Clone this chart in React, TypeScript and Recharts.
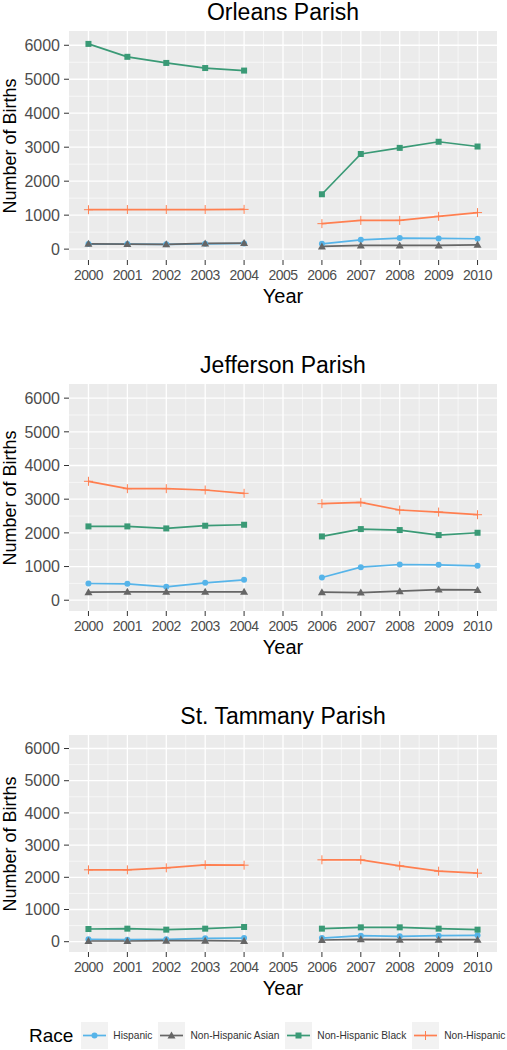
import React from "react"
import { LineChart, Line, XAxis, YAxis, CartesianGrid } from "recharts"

const YEARS = [2000, 2001, 2002, 2003, 2004, 2005, 2006, 2007, 2008, 2009, 2010]
const Y_TICKS = [0, 1000, 2000, 3000, 4000, 5000, 6000]
const Y_MINOR = [500, 1500, 2500, 3500, 4500, 5500]
const X_MINOR = [2000.5, 2001.5, 2002.5, 2003.5, 2004.5, 2005.5, 2006.5, 2007.5, 2008.5, 2009.5]

const RACES = ["Hispanic", "Non-Hispanic Asian", "Non-Hispanic Black", "Non-Hispanic"]

// births per year, null = 2005 (no data after Katrina)
const orleansHispanic = [150, 150, 140, 155, 165, null, 157, 275, 325, 315, 305]
const orleansAsian = [157, 148, 140, 167, 177, null, 79, 108, 108, 108, 128]
const orleansBlack = [6040, 5660, 5480, 5330, 5255, null, 1615, 2800, 2980, 3160, 3020]
const orleansWhite = [1160, 1165, 1165, 1165, 1170, null, 750, 845, 845, 965, 1075]

const jeffersonHispanic = [496, 486, 397, 516, 605, null, 674, 982, 1061, 1051, 1022]
const jeffersonAsian = [238, 248, 248, 248, 248, null, 238, 228, 268, 317, 307]
const jeffersonBlack = [2192, 2192, 2132, 2212, 2241, null, 1894, 2112, 2083, 1934, 2003]
const jeffersonWhite = [3531, 3312, 3312, 3273, 3174, null, 2866, 2906, 2678, 2618, 2539]

const tammanyHispanic = [73, 62, 73, 104, 114, null, 114, 187, 166, 187, 197]
const tammanyAsian = [21, 21, 31, 31, 21, null, 52, 73, 62, 62, 62]
const tammanyBlack = [394, 405, 374, 405, 457, null, 405, 446, 446, 405, 374]
const tammanyWhite = [2232, 2232, 2294, 2388, 2377, null, 2543, 2543, 2356, 2190, 2128]

const COLORS = ["#56B4E9", "#666666", "#3A9A76", "#FF7F50"]
const SHAPES = ["circle", "triangle", "square", "plus"]
const FONT = "'Liberation Sans', Arial, Helvetica, sans-serif"

function buildRows(series: (number | null)[][]) {
  return YEARS.map((year, i) => {
    const row: Record<string, number | null> = { year }
    RACES.forEach((r, k) => {
      row[r] = series[k][i]
    })
    return row
  })
}

function Marker({ shape, color, cx, cy }: { shape: string; color: string; cx: number; cy: number }) {
  if (shape === "circle") return <circle cx={cx} cy={cy} r={3} fill={color} />
  if (shape === "triangle")
    return <polygon points={`${cx},${cy - 4} ${cx - 4},${cy + 3} ${cx + 4},${cy + 3}`} fill={color} />
  if (shape === "square") return <rect x={cx - 3} y={cy - 3} width={6} height={6} fill={color} />
  return (
    <g stroke={color} strokeWidth={1}>
      <line x1={cx - 4.5} y1={cy} x2={cx + 4.5} y2={cy} />
      <line x1={cx} y1={cy - 4.5} x2={cx} y2={cy + 4.5} />
    </g>
  )
}

const panels = [
  { title: "Orleans Parish", series: [orleansHispanic, orleansAsian, orleansBlack, orleansWhite], top: 31, h: 229 },
  { title: "Jefferson Parish", series: [jeffersonHispanic, jeffersonAsian, jeffersonBlack, jeffersonWhite], top: 384, h: 227 },
  { title: "St. Tammany Parish", series: [tammanyHispanic, tammanyAsian, tammanyBlack, tammanyWhite], top: 735, h: 217 },
]

const PLOT_LEFT = 69
const PLOT_RIGHT = 497

function Panel({ title, series, top, h }: { title: string; series: (number | null)[][]; top: number; h: number }) {
  const rows = buildRows(series)
  const bottom = top + h
  return (
    <>
      <div
        style={{
          position: "absolute", left: PLOT_LEFT, width: PLOT_RIGHT - PLOT_LEFT, top: top - 33,
          height: 28, lineHeight: "28px", textAlign: "center", fontSize: 23, color: "#000",
        }}
      >
        {title}
      </div>
      <div style={{ position: "absolute", left: 10, top: top + h / 2, width: 0, height: 0 }}>
        <div
          style={{
            position: "absolute", whiteSpace: "nowrap", fontSize: 18, lineHeight: "18px", color: "#000",
            transform: "translate(-50%, -50%) rotate(-90deg)",
          }}
        >
          Number of Births
        </div>
      </div>
      <div
        style={{
          position: "absolute", left: PLOT_LEFT, width: PLOT_RIGHT - PLOT_LEFT, top: bottom + 24,
          height: 24, lineHeight: "24px", textAlign: "center", fontSize: 20, color: "#000",
        }}
      >
        Year
      </div>
      <div style={{ position: "absolute", left: 0, top: top - 10 }}>
        <LineChart width={507} height={h + 40} data={rows} margin={{ top: 10, right: 507 - PLOT_RIGHT, bottom: 0, left: 0 }}>
          <CartesianGrid fill="#EBEBEB" stroke="#FFFFFF" strokeWidth={0.6} horizontalValues={Y_MINOR} verticalValues={X_MINOR} />
          <CartesianGrid fill="none" stroke="#FFFFFF" strokeWidth={1.3} horizontalValues={Y_TICKS} verticalValues={YEARS} />
          <XAxis
            dataKey="year"
            type="number"
            domain={[1999.5, 2010.5]}
            ticks={YEARS}
            interval={0}
            height={30}
            axisLine={false}
            tickSize={5}
            tickMargin={5}
            tickLine={{ stroke: "#333333" }}
            tick={{ fontSize: 14, fill: "#4D4D4D", letterSpacing: -0.5, fontFamily: FONT }}
          />
          <YAxis
            type="number"
            domain={[-320, 6420]}
            allowDataOverflow
            ticks={Y_TICKS}
            interval={0}
            width={PLOT_LEFT}
            axisLine={false}
            tickSize={5}
            tickMargin={4}
            tickLine={{ stroke: "#333333" }}
            tick={{ fontSize: 16, fill: "#4D4D4D", fontFamily: FONT }}
          />
          {RACES.map((race, k) => (
            <Line
              key={race}
              dataKey={race}
              type="linear"
              stroke={COLORS[k]}
              strokeWidth={1.7}
              isAnimationActive={false}
              connectNulls={false}
              activeDot={false}
              dot={(p: any) =>
                p.cy == null || p.value == null ? (
                  <g key={`d-${race}-${p.index}`} />
                ) : (
                  <Marker key={`d-${race}-${p.index}`} shape={SHAPES[k]} color={COLORS[k]} cx={p.cx} cy={p.cy} />
                )
              }
            />
          ))}
        </LineChart>
      </div>
    </>
  )
}

function LegendKey({ k }: { k: number }) {
  return (
    <svg width={27} height={27} style={{ display: "block" }}>
      <rect x={0} y={0} width={27} height={27} fill="#F2F2F2" />
      <line x1={2} y1={13.5} x2={25} y2={13.5} stroke={COLORS[k]} strokeWidth={1.7} />
      <Marker shape={SHAPES[k]} color={COLORS[k]} cx={13.5} cy={13.5} />
    </svg>
  )
}

export default function App() {
  return (
    <div style={{ position: "absolute", left: 0, top: 0, width: 507, height: 1050, background: "#fff", fontFamily: FONT, overflow: "hidden" }}>
      {panels.map((p) => (
        <Panel key={p.title} {...p} />
      ))}
      <div style={{ position: "absolute", left: 29, top: 1022, height: 27, display: "flex", alignItems: "center" }}>
        <span style={{ fontSize: 19, color: "#000", marginRight: 8 }}>Race</span>
        {RACES.map((race, k) => (
          <div key={race} style={{ display: "flex", alignItems: "center", marginRight: k < RACES.length - 1 ? 6 : 0 }}>
            <LegendKey k={k} />
            <span style={{ fontSize: 10.2, color: "#333", marginLeft: 5, whiteSpace: "nowrap" }}>{race}</span>
          </div>
        ))}
      </div>
    </div>
  )
}
